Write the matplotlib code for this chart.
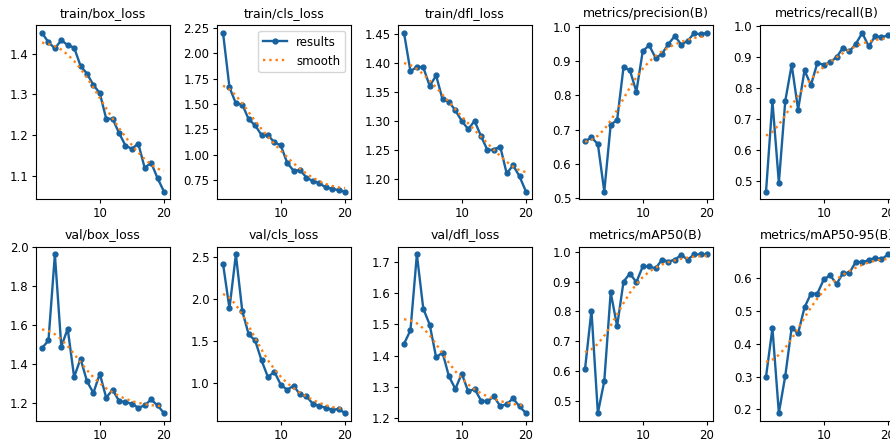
import numpy as np
import matplotlib
matplotlib.use("Agg")
import matplotlib.pyplot as plt

plt.rcParams['font.family'] = 'DejaVu Sans'
plt.rcParams['font.size'] = 8.5

epochs = list(range(1, 21))

titles = ["train/box_loss", "train/cls_loss", "train/dfl_loss",
          "metrics/precision(B)", "metrics/recall(B)",
          "val/box_loss", "val/cls_loss", "val/dfl_loss",
          "metrics/mAP50(B)", "metrics/mAP50-95(B)"]

train_box_loss = [1.451, 1.428, 1.413, 1.433, 1.421, 1.415, 1.370, 1.351, 1.323, 1.303,
                  1.240, 1.240, 1.205, 1.174, 1.166, 1.179, 1.119, 1.132, 1.094, 1.061]
train_cls_loss = [2.200, 1.664, 1.507, 1.495, 1.349, 1.290, 1.194, 1.194, 1.122, 1.092,
                  0.921, 0.842, 0.849, 0.776, 0.740, 0.720, 0.678, 0.665, 0.651, 0.638]
train_dfl_loss = [1.451, 1.385, 1.393, 1.392, 1.360, 1.378, 1.337, 1.333, 1.318, 1.300,
                  1.286, 1.300, 1.274, 1.250, 1.251, 1.256, 1.210, 1.224, 1.205, 1.179]
precision = [0.666, 0.678, 0.658, 0.520, 0.715, 0.728, 0.882, 0.873, 0.811, 0.929,
             0.946, 0.909, 0.921, 0.950, 0.973, 0.948, 0.959, 0.981, 0.978, 0.982]
recall = [0.465, 0.757, 0.493, 0.758, 0.875, 0.730, 0.857, 0.809, 0.881, 0.875,
          0.883, 0.900, 0.930, 0.918, 0.943, 0.978, 0.935, 0.967, 0.964, 0.970]
val_box_loss = [1.481, 1.520, 1.962, 1.489, 1.580, 1.332, 1.426, 1.311, 1.250, 1.349,
                1.226, 1.267, 1.209, 1.203, 1.195, 1.174, 1.186, 1.217, 1.186, 1.147]
val_cls_loss = [2.413, 1.886, 2.524, 1.854, 1.579, 1.508, 1.272, 1.075, 1.138, 0.984,
                0.925, 0.972, 0.870, 0.846, 0.760, 0.732, 0.713, 0.689, 0.697, 0.650]
val_dfl_loss = [1.438, 1.481, 1.723, 1.550, 1.499, 1.395, 1.410, 1.334, 1.294, 1.343,
                1.286, 1.294, 1.257, 1.254, 1.270, 1.239, 1.245, 1.264, 1.238, 1.217]
map50 = [0.607, 0.803, 0.459, 0.566, 0.864, 0.750, 0.900, 0.927, 0.898, 0.951,
         0.951, 0.944, 0.974, 0.967, 0.974, 0.989, 0.974, 0.991, 0.991, 0.991]
map50_95 = [0.300, 0.447, 0.189, 0.302, 0.449, 0.431, 0.510, 0.552, 0.552, 0.595,
            0.608, 0.581, 0.615, 0.615, 0.649, 0.647, 0.654, 0.661, 0.656, 0.671]

series = [train_box_loss, train_cls_loss, train_dfl_loss, precision, recall,
          val_box_loss, val_cls_loss, val_dfl_loss, map50, map50_95]


def gaussian_smooth(y, sigma=3.0):
    # same as scipy gaussian_filter1d (mode='reflect', truncate=4)
    y = np.asarray(y, dtype=float)
    r = int(4 * sigma + 0.5)
    k = np.exp(-0.5 * (np.arange(-r, r + 1) / sigma) ** 2)
    k /= k.sum()
    padded = np.concatenate([y[:r][::-1], y, y[-r:][::-1]])
    return np.convolve(padded, k, mode='valid')


fig, axes = plt.subplots(2, 5, figsize=(8.9, 4.41), dpi=100)
fig.subplots_adjust(left=0.0404, right=1.0045, bottom=0.0454, top=0.9433,
                    wspace=0.35, hspace=0.27)
axes = axes.ravel()

for i, (ax, y) in enumerate(zip(axes, series)):
    ax.plot(epochs, y, marker='.', label='results', linewidth=1.7, markersize=7,
            color='#17629f')
    ax.plot(epochs, gaussian_smooth(y), ':', label='smooth', linewidth=1.7,
            color='#ff7f0e')
    ax.set_title(titles[i], fontsize=9)
    ax.set_xticks([10, 20])
    ax.tick_params(length=3, pad=2.5)
    if i == 1:
        ax.legend(loc='upper right')

fig.savefig("out.png", dpi=100)
